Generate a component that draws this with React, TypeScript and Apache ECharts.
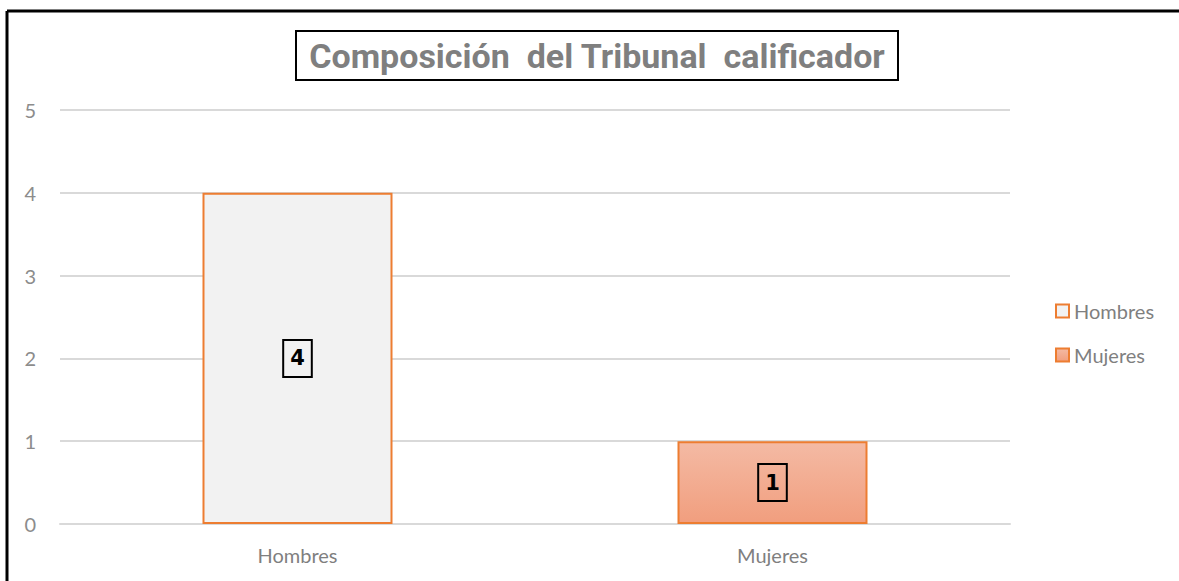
import React, { useEffect, useRef } from "react";
import * as echarts from "echarts";

const categories = ["Hombres", "Mujeres"];
const hombresValues = [4, null];
const mujeresValues = [null, 1];
const yTicks = [0, 1, 2, 3, 4, 5];
const titleText = "Composición  del Tribunal  calificador";

export default function App() {
  const ref = useRef<HTMLDivElement>(null);
  useEffect(() => {
    const chart = echarts.init(ref.current!, null, { renderer: "svg" });
    const labelStyle = {
      show: true,
      position: "inside",
      color: "#000",
      fontSize: 21,
      fontWeight: 900,
      fontFamily: "DejaVu Sans",
      borderColor: "#000",
      borderWidth: 2,
      padding: [9, 7, 7, 7],
    };
    chart.setOption({
      animation: false,
      backgroundColor: "#fff",
      grid: { left: 60, right: 169, top: 110, bottom: 57 },
      legend: {
        orient: "vertical",
        left: 1055,
        top: 301,
        padding: 0,
        icon: "rect",
        itemWidth: 13,
        itemHeight: 13,
        itemGap: 24,
        textStyle: { color: "#7f7f7f", fontSize: 20, fontFamily: "Lato" },
        data: ["Hombres", "Mujeres"],
      },
      xAxis: {
        type: "category",
        data: categories,
        axisLine: { lineStyle: { color: "#d9d9d9", width: 2 } },
        axisTick: { show: false },
        axisLabel: { color: "#7f7f7f", fontSize: 20, fontFamily: "Lato", margin: 21 },
      },
      yAxis: {
        type: "value",
        min: yTicks[0],
        max: yTicks[yTicks.length - 1],
        interval: 1,
        axisLine: { show: false },
        axisTick: { show: false },
        splitLine: { lineStyle: { color: "#d9d9d9", width: 2 } },
        axisLabel: { color: "#8c8c8c", fontSize: 20, fontFamily: "Lato", margin: 24 },
      },
      series: [
        {
          name: "Hombres",
          type: "bar",
          stack: "t",
          barWidth: 190,
          data: hombresValues,
          itemStyle: { color: "#f2f2f2", borderColor: "#ed7d31", borderWidth: 2 },
          label: labelStyle,
        },
        {
          name: "Mujeres",
          type: "bar",
          stack: "t",
          barWidth: 190,
          data: mujeresValues,
          itemStyle: {
            color: new echarts.graphic.LinearGradient(0, 0, 0, 1, [
              { offset: 0, color: "#f4baa4" },
              { offset: 1, color: "#f19e7e" },
            ]),
            borderColor: "#ed7d31",
            borderWidth: 2,
          },
          label: labelStyle,
        },
      ],
      graphic: [
        { type: "line", shape: { x1: 7, y1: 11, x2: 1179, y2: 11 }, style: { stroke: "#000", lineWidth: 3 } },
        { type: "line", shape: { x1: 7, y1: 11, x2: 7, y2: 581 }, style: { stroke: "#000", lineWidth: 3 } },
        {
          type: "rect",
          shape: { x: 296, y: 31, width: 602, height: 49 },
          style: { fill: "#fff", stroke: "#000", lineWidth: 2 },
        },
        {
          type: "text",
          x: 597,
          y: 56,
          style: {
            text: titleText,
            fill: "#7f7f7f",
            font: "bold 34px Roboto",
            align: "center",
            verticalAlign: "middle",
          },
        },
      ],
    });
    return () => chart.dispose();
  }, []);
  return <div ref={ref} style={{ position: "fixed", left: 0, top: 0, width: 1179, height: 581 }} />;
}
